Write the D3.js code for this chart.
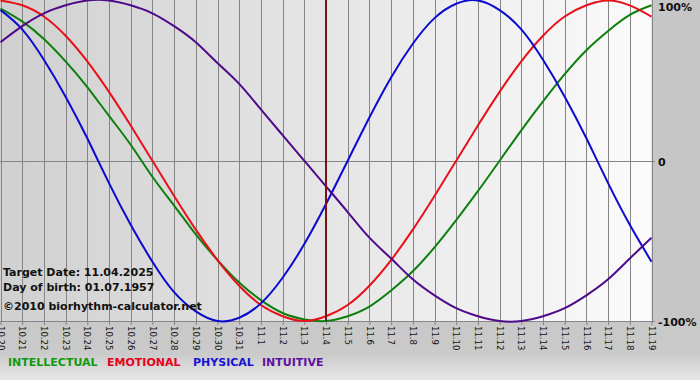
<!DOCTYPE html>
<html><head><meta charset="utf-8">
<script src="https://cdn.jsdelivr.net/npm/d3@7"></script>
<style>html,body{margin:0;padding:0;background:#c6c6c6;}svg{display:block}</style>
</head><body><svg id="c" width="700" height="380"></svg>
<script>
const days = ["10.20","10.21","10.22","10.23","10.24","10.25","10.26","10.27","10.28","10.29","10.30","10.31",
  "11.1","11.2","11.3","11.4","11.5","11.6","11.7","11.8","11.9","11.10","11.11","11.12","11.13","11.14","11.15","11.16","11.17","11.18","11.19"];
const physical = [0.94,0.82,0.63,0.40,0.14,-0.14,-0.40,-0.63,-0.82,-0.94,-1.00,-0.98,-0.89,-0.73,-0.52,-0.27,0.00,0.27,0.52,0.73,0.89,0.98,1.00,0.94,0.82,0.63,0.40,0.14,-0.14,-0.40,-0.63];
const emotional = [1.00,0.97,0.90,0.78,0.62,0.43,0.22,0.00,-0.22,-0.43,-0.62,-0.78,-0.90,-0.97,-1.00,-0.97,-0.90,-0.78,-0.62,-0.43,-0.22,0.00,0.22,0.43,0.62,0.78,0.90,0.97,1.00,0.97,0.90];
const intellectual = [0.95,0.87,0.76,0.62,0.46,0.28,0.10,-0.10,-0.28,-0.46,-0.62,-0.76,-0.87,-0.95,-0.99,-1.00,-0.97,-0.91,-0.81,-0.69,-0.54,-0.37,-0.19,0.00,0.19,0.37,0.54,0.69,0.81,0.91,0.97];
const intuitive = [0.74,0.84,0.92,0.97,1.00,1.00,0.97,0.92,0.84,0.74,0.61,0.48,0.32,0.16,0.00,-0.16,-0.32,-0.48,-0.61,-0.74,-0.84,-0.92,-0.97,-1.00,-1.00,-0.97,-0.92,-0.84,-0.74,-0.61,-0.48];
const targetDay = "11.4";
const yTickValues = [1, 0, -1];
const yTickLabels = ["100%", "0", "-100%"];
const infoLines = ["Target Date: 11.04.2025", "Day of birth: 01.07.1957", "\u00A92010 biorhythm-calculator.net"];
const legendNames = ["INTELLECTUAL", "EMOTIONAL", "PHYSICAL", "INTUITIVE"];

const seriesList = [
  {name: "INTELLECTUAL", values: intellectual, color: "#0c800c"},
  {name: "EMOTIONAL", values: emotional, color: "#e8101a"},
  {name: "PHYSICAL", values: physical, color: "#0a0ad0"},
  {name: "INTUITIVE", values: intuitive, color: "#4e0a8a"}
];
const legendColors = {"INTELLECTUAL":"#109a10","EMOTIONAL":"#e8001c","PHYSICAL":"#1414d4","INTUITIVE":"#5e10a0"};

const svg = d3.select("#c");
const W = 700, H = 380;
const plotL = 0, plotR = 651.5, plotT = 0, plotB = 321;

const x = d3.scalePoint().domain(days).range([0.5, 651.5]);
const y = d3.scaleLinear().domain([-1, 1]).range([321, 0.5]);

const defs = svg.append("defs");
const g1 = defs.append("linearGradient").attr("id","plotbg").attr("x1","0").attr("x2","1").attr("y1","0").attr("y2","0");
g1.append("stop").attr("offset","0").attr("stop-color","#d0d0d0");
g1.append("stop").attr("offset","1").attr("stop-color","#fbfbfb");
const g2 = defs.append("linearGradient").attr("id","botbg").attr("x1","0").attr("x2","0").attr("y1","0").attr("y2","1");
g2.append("stop").attr("offset","0").attr("stop-color","#c8c8c8");
g2.append("stop").attr("offset","0.55").attr("stop-color","#cacaca");
g2.append("stop").attr("offset","1").attr("stop-color","#e6e6e6");

svg.append("rect").attr("x",0).attr("y",0).attr("width",W).attr("height",H).attr("fill","#c6c6c6");
svg.append("rect").attr("x",0).attr("y",321).attr("width",W).attr("height",H-321).attr("fill","url(#botbg)");
svg.append("rect").attr("x",plotL).attr("y",plotT).attr("width",plotR-plotL).attr("height",plotB-plotT).attr("fill","url(#plotbg)");

// vertical grid
svg.append("g").selectAll("line").data(days).join("line")
  .attr("x1", d => Math.round(x(d)) + 0.5).attr("x2", d => Math.round(x(d)) + 0.5)
  .attr("y1", 0).attr("y2", 321)
  .attr("stroke", "#858585").attr("stroke-width", 1);

// zero line
svg.append("line").attr("x1",0).attr("x2",655).attr("y1",Math.round(y(0))+0.5).attr("y2",Math.round(y(0))+0.5)
  .attr("stroke","#858585");

// x axis
const xAxis = svg.append("g").attr("transform","translate(0,321)")
  .call(d3.axisBottom(x).tickSize(4).tickSizeOuter(0));
xAxis.select(".domain").attr("stroke","#858585").attr("d","M0,0.5H655");
xAxis.selectAll(".tick line").attr("stroke","#858585");
xAxis.selectAll(".tick text")
  .attr("transform","rotate(90)")
  .attr("x", 5).attr("y", 0).attr("dy","0.35em")
  .attr("text-anchor","start")
  .attr("fill","#111")
  .style("font-family","'DejaVu Sans Condensed','DejaVu Sans',sans-serif")
  .style("font-size","9.5px");

// curves
const line = d3.line().x((d,i) => x(days[i])).y(d => y(d)).curve(d3.curveNatural);
svg.append("g").selectAll("path").data(seriesList).join("path")
  .attr("d", d => line(d.values))
  .attr("fill","none").attr("stroke", d => d.color).attr("stroke-width", 2);

// target line
svg.append("line").attr("x1", x(targetDay)).attr("x2", x(targetDay)).attr("y1",0).attr("y2",321)
  .attr("stroke","#7a1414").attr("stroke-width",2);

// y labels (right)
svg.append("g").selectAll("text").data(yTickValues).join("text")
  .attr("x", 658)
  .attr("y", d => Math.max(y(d) + 1, 7))
  .attr("dy","0.36em")
  .text((d,i) => yTickLabels[i])
  .attr("fill","#111")
  .style("font-family","'DejaVu Sans',Verdana,sans-serif")
  .style("font-weight","bold").style("font-size","11px");

// info text
svg.append("g").selectAll("text").data(infoLines).join("text")
  .attr("x", 3).attr("y", (d,i) => [276, 291, 310][i])
  .text(d => d)
  .attr("fill","#111")
  .style("font-family","'DejaVu Sans',Verdana,sans-serif")
  .style("font-weight","bold").style("font-size","11px");

// legend
const legX = [8, 107, 193, 262];
svg.append("g").selectAll("text").data(legendNames).join("text")
  .attr("x", (d,i) => legX[i]).attr("y", 366)
  .text(d => d)
  .attr("fill", d => legendColors[d])
  .style("font-family","'DejaVu Sans',Verdana,sans-serif")
  .style("font-weight","bold").style("font-size","11px");
</script></body></html>
